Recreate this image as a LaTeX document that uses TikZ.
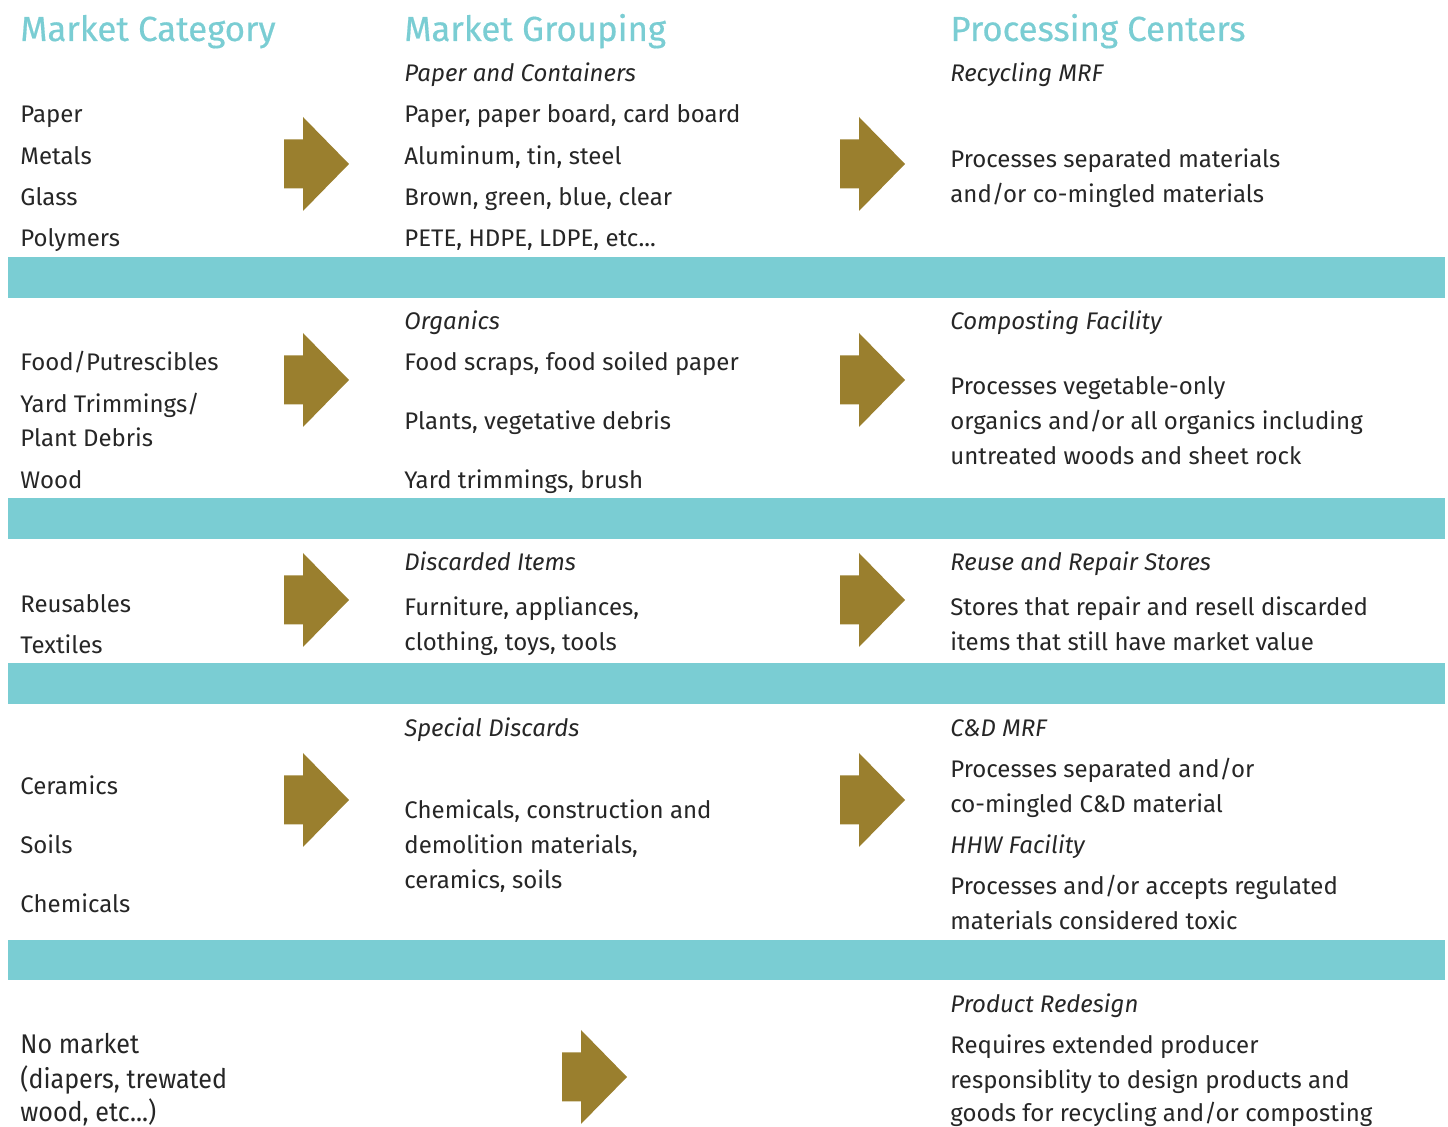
\documentclass[tikz,border=0pt]{standalone}
\usepackage{fontspec}
\setmainfont{Fira Sans}
\newfontfamily\narrowfont[FakeStretch=0.93]{Fira Sans}
\newfontfamily\headfont[FakeBold=0.5]{Fira Sans}
\usetikzlibrary{positioning}
\definecolor{bandteal}{HTML}{7ACDD3}
\definecolor{arrowgold}{HTML}{9A7F2E}
\definecolor{inkgray}{HTML}{262626}
\tikzset{
  txt/.style={anchor=base west,inner sep=0pt,text=inkgray,font=\fontsize{12}{17.5}\selectfont},
  itxt/.style={txt,font=\fontsize{12}{17.5}\selectfont\itshape},
  ntxt/.style={txt,font=\fontsize{13.5}{17.5}\narrowfont},
  headtxt/.style={anchor=base west,inner sep=0pt,text=bandteal,font=\fontsize{17.4}{22}\headfont},
  band/.style={fill=bandteal},
  pics/goarrow/.style={code={
    \fill[arrowgold] (0,-24.5) -- (19,-24.5) -- (19,-47) -- (65,0) -- (19,47) -- (19,24.5) -- (0,24.5) -- cycle;}}
}
\begin{document}
\begin{tikzpicture}[x=0.5pt,y=-0.5pt]
    \useasboundingbox (0,0) rectangle (1448,1127);
    %横条
        \fill [band] (8,257) rectangle (1445,298);
        \fill [band] (8,498) rectangle (1445,539);
        \fill [band] (8,663) rectangle (1445,704);
        \fill [band] (8,940) rectangle (1445,980);
    %标题
        \node [headtxt] (hcat) at (20,41) {Market Category};
        \node [headtxt] (hgrp) at (404,41) {Market Grouping};
        \node [headtxt] (hproc) at (950,41) {Processing Centers};
    %箭头
        \path (284,164) pic {goarrow} (840,164) pic {goarrow};
        \path (284,380) pic {goarrow} (840,380) pic {goarrow};
        \path (284,600) pic {goarrow} (840,600) pic {goarrow};
        \path (284,800) pic {goarrow} (840,800) pic {goarrow};
        \path (562,1077) pic {goarrow};
    %第一组
        \node [txt] (cat1a) at (20,123) {Paper};
        \node [txt] (cat1b) at (20,165) {Metals};
        \node [txt] (cat1c) at (20,206) {Glass};
        \node [txt] (cat1d) at (20,247) {Polymers};
        \node [itxt] (grp1) at (404,82) {Paper and Containers};
        \node [txt] (grp1a) at (404,123) {Paper, paper board, card board};
        \node [txt] (grp1b) at (404,165) {Aluminum, tin, steel};
        \node [txt] (grp1c) at (404,206) {Brown, green, blue, clear};
        \node [txt] (grp1d) at (404,247) {PETE, HDPE, LDPE, etc...};
        \node [itxt] (proc1) at (950,82) {Recycling MRF};
        \node [txt] (proc1a) at (950,168) {Processes separated materials};
        \node [txt] (proc1b) at (950,203) {and/or co-mingled materials};
    %第二组
        \node [txt] (cat2a) at (20,371) {Food/Putrescibles};
        \node [txt] (cat2b) at (20,413) {Yard Trimmings/};
        \node [txt] (cat2c) at (20,447) {Plant Debris};
        \node [txt] (cat2d) at (20,489) {Wood};
        \node [itxt] (grp2) at (404,330) {Organics};
        \node [txt] (grp2a) at (404,371) {Food scraps, food soiled paper};
        \node [txt] (grp2b) at (404,430) {Plants, vegetative debris};
        \node [txt] (grp2c) at (404,489) {Yard trimmings, brush};
        \node [itxt] (proc2) at (950,330) {Composting Facility};
        \node [txt] (proc2a) at (950,395) {Processes vegetable-only};
        \node [txt] (proc2b) at (950,430) {organics and/or all organics including};
        \node [txt] (proc2c) at (950,465) {untreated woods and sheet rock};
    %第三组
        \node [txt] (cat3a) at (20,613) {Reusables};
        \node [txt] (cat3b) at (20,654) {Textiles};
        \node [itxt] (grp3) at (404,571) {Discarded Items};
        \node [txt] (grp3a) at (404,616) {Furniture, appliances,};
        \node [txt] (grp3b) at (404,651) {clothing, toys, tools};
        \node [itxt] (proc3) at (950,571) {Reuse and Repair Stores};
        \node [txt] (proc3a) at (950,616) {Stores that repair and resell discarded};
        \node [txt] (proc3b) at (950,651) {items that still have market value};
    %第四组
        \node [txt] (cat4a) at (20,795) {Ceramics};
        \node [txt] (cat4b) at (20,854) {Soils};
        \node [txt] (cat4c) at (20,913) {Chemicals};
        \node [itxt] (grp4) at (404,737) {Special Discards};
        \node [txt] (grp4a) at (404,819) {Chemicals, construction and};
        \node [txt] (grp4b) at (404,854) {demolition materials,};
        \node [txt] (grp4c) at (404,889) {ceramics, soils};
        \node [itxt] (proc4) at (950,737) {C\&D MRF};
        \node [txt] (proc4a) at (950,778) {Processes separated and/or};
        \node [txt] (proc4b) at (950,813) {co-mingled C\&D material};
        \node [itxt] (proc5) at (950,854) {HHW Facility};
        \node [txt] (proc5a) at (950,895) {Processes and/or accepts regulated};
        \node [txt] (proc5b) at (950,930) {materials considered toxic};
    %无市场
        \node [ntxt] (cat5a) at (20,1054) {No market};
        \node [ntxt] (cat5b) at (20,1089) {(diapers, trewated};
        \node [ntxt] (cat5c) at (20,1122) {wood, etc...)};
        \node [itxt] (proc6) at (950,1013) {Product Redesign};
        \node [txt] (proc6a) at (950,1054) {Requires extended producer};
        \node [txt] (proc6b) at (950,1089) {responsiblity to design products and};
        \node [txt] (proc6c) at (950,1122) {goods for recycling and/or composting};
\end{tikzpicture}
\end{document}
